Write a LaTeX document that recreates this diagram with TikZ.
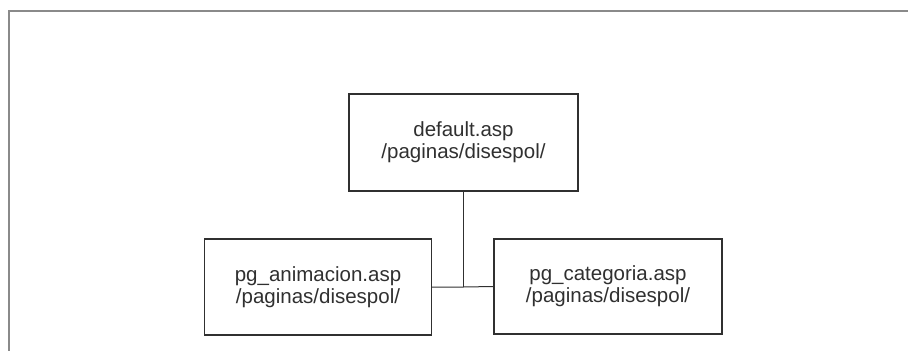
\documentclass[tikz,border=0pt]{standalone}
\usepackage{fontspec}
\setmainfont{Liberation Sans}
\definecolor{inkc}{HTML}{303030}
\definecolor{framec}{HTML}{8A8A8A}
\tikzset{
  pagebox/.style={draw=inkc, line width=1.4pt, text=inkc, align=center,
    inner sep=0pt, font=\fontsize{20.5}{22}\selectfont},
  link/.style={draw=inkc, line width=1pt},
  framel/.style={draw=framec, line width=1.6pt}
}
\begin{document}
\begin{tikzpicture}[x=1pt,y=-1pt]
\useasboundingbox (0,0) rectangle (908,351);
\draw[framel] (908,11) -- (9,11) -- (9,351);
\node[pagebox, minimum width=229pt, minimum height=97pt] (top) at (463.5,142.5) {default.asp\\/paginas/disespol/};
\node[pagebox, minimum width=227pt, minimum height=96pt] (left) at (318,287) {pg\_animacion.asp\\/paginas/disespol/};
\node[pagebox, minimum width=228pt, minimum height=95pt] (right) at (608,286.5) {pg\_categoria.asp\\/paginas/disespol/};
\coordinate (j) at (top.south |- left.east);
\draw[link] (top.south) -- (j);
\draw[link] (left.east) -- (j) -- (right.west);
\end{tikzpicture}
\end{document}
